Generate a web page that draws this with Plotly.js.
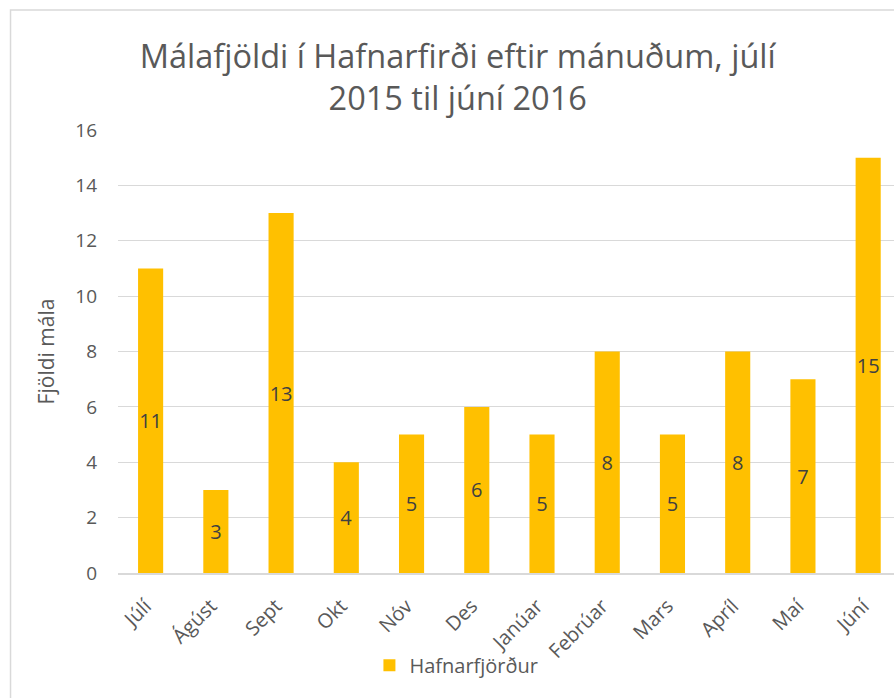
<!DOCTYPE html>
<html>
<head>
<meta charset="utf-8">
<script src="https://cdn.plot.ly/plotly-3.0.1.min.js"></script>
<style>html,body{margin:0;padding:0;overflow:hidden;background:#fff}#chart{width:894px;height:698px}</style>
</head>
<body>
<div id="chart"></div>
<script>
const months = ["Júlí","Ágúst","Sept","Okt","Nóv","Des","Janúar","Febrúar","Mars","Apríl","Maí","Júní"];
const cases = [11,3,13,4,5,6,5,8,5,8,7,15];
const seriesName = "Hafnarfjörður";
const chartTitle = "Málafjöldi í Hafnarfirði eftir mánuðum, júlí<br>2015 til júní 2016";
const yTitle = "Fjöldi mála";
const yTicks = [0,2,4,6,8,10,12,14,16];

const FONT = "Open Sans, sans-serif";
const trace = {
  type: "bar",
  x: months,
  y: cases,
  name: seriesName,
  marker: {color: "#FFC000"},
  text: cases.map(String),
  textposition: "inside",
  insidetextanchor: "middle",
  textangle: 0,
  textfont: {family: FONT, size: 20, color: "#404040"},
  showlegend: true,
  hoverinfo: "x+y"
};

const layout = {
  width: 894, height: 698,
  margin: {l: 118, r: 0, t: 130, b: 125},
  paper_bgcolor: "#fff", plot_bgcolor: "#fff",
  font: {family: FONT, color: "#595959"},
  bargap: 0.615,
  uniformtext: {mode: "show", minsize: 20},
  title: {
    text: chartTitle,
    font: {family: FONT, size: 32.5, color: "#595959"},
    x: 0.512, xanchor: "center",
    y: 0.903, yanchor: "top"
  },
  xaxis: {
    type: "category",
    range: [-0.5, 11.396],
    tickangle: -45,
    tickfont: {family: FONT, size: 20, color: "#595959"},
    ticklabelstandoff: 12,
    ticklabelshift: -5,
    showgrid: false,
    showline: true, linecolor: "#d9d9d9", linewidth: 1.5,
    ticks: "",
    fixedrange: true
  },
  yaxis: {
    range: [0, 16],
    tickvals: yTicks,
    tickfont: {family: FONT, size: 19, color: "#595959"},
    ticklabelstandoff: 20,
    showgrid: true, gridcolor: "#d9d9d9", gridwidth: 1,
    zeroline: false, showline: false, ticks: "",
    title: {text: yTitle, font: {family: FONT, size: 21, color: "#595959"}, standoff: 14},
    fixedrange: true
  },
  showlegend: true,
  legend: {
    orientation: "h",
    x: 0.324, xanchor: "left",
    y: -0.208, yanchor: "middle",
    font: {family: FONT, size: 20, color: "#595959"},
    bgcolor: "rgba(0,0,0,0)"
  },
  shapes: [{
    type: "rect", xref: "paper", yref: "paper",
    x0: -0.1385, x1: 1.2, y0: -0.5, y1: 1.2709,
    line: {color: "#d9d9d9", width: 1.5}, fillcolor: "rgba(0,0,0,0)", layer: "below"
  }]
};

Plotly.newPlot("chart", [trace], layout, {displayModeBar: false, staticPlot: true});
</script>
</body>
</html>
